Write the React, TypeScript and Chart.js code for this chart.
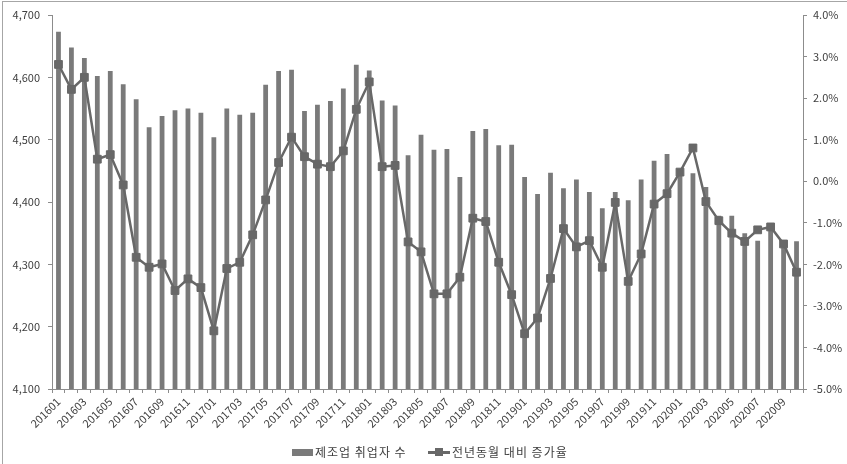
import React, { useEffect, useRef } from "react";
import { Chart, registerables } from "chart.js";

Chart.register(...registerables);

// Month codes (YYYYMM)
const months: string[] = [
  "201601", "201602", "201603", "201604", "201605", "201606",
  "201607", "201608", "201609", "201610", "201611", "201612",
  "201701", "201702", "201703", "201704", "201705", "201706",
  "201707", "201708", "201709", "201710", "201711", "201712",
  "201801", "201802", "201803", "201804", "201805", "201806",
  "201807", "201808", "201809", "201810", "201811", "201812",
  "201901", "201902", "201903", "201904", "201905", "201906",
  "201907", "201908", "201909", "201910", "201911", "201912",
  "202001", "202002", "202003", "202004", "202005", "202006",
  "202007", "202008", "202009", "202010",
];

// Manufacturing employment (thousand persons)
const employed: number[] = [
  4673, 4648, 4631, 4602, 4610, 4589, 4565, 4520, 4538, 4547, 4550, 4543,
  4504, 4550, 4540, 4543, 4588, 4610, 4612, 4546, 4556, 4562, 4582, 4620,
  4611, 4563, 4555, 4475, 4508, 4484, 4485, 4440, 4514, 4517, 4491, 4492,
  4440, 4413, 4447, 4422, 4436, 4416, 4390, 4416, 4403, 4436, 4466, 4477,
  4450, 4446, 4424, 4378, 4378, 4350, 4338, 4366, 4338, 4337,
];

// Year-on-year change (%)
const yoyRate: number[] = [
  2.81, 2.21, 2.5, 0.53, 0.64, -0.09, -1.83, -2.07, -1.99, -2.63, -2.35, -2.56,
  -3.6, -2.1, -1.95, -1.29, -0.45, 0.45, 1.06, 0.59, 0.41, 0.35, 0.73, 1.73,
  2.39, 0.35, 0.38, -1.46, -1.7, -2.71, -2.71, -2.31, -0.89, -0.97, -1.95, -2.73,
  -3.67, -3.29, -2.34, -1.14, -1.58, -1.43, -2.07, -0.51, -2.41, -1.75, -0.55, -0.3,
  0.22, 0.8, -0.49, -0.95, -1.25, -1.45, -1.17, -1.1, -1.51, -2.19,
];

const barLabel = "제조업 취업자 수";
const lineLabel = "전년동월 대비 증가율";

const BAR_COLOR = "#7a7a7a";
const LINE_COLOR = "#686868";
const AXIS_COLOR = "#8c8c8c";
const TEXT_COLOR = "#404040";
const FONT = '"Noto Sans CJK KR", "Noto Sans", sans-serif';

export default function App() {
  const canvasRef = useRef<HTMLCanvasElement | null>(null);

  useEffect(() => {
    const canvas = canvasRef.current;
    if (!canvas) return;

    Chart.defaults.font.family = FONT;
    Chart.defaults.font.size = 11;
    Chart.defaults.color = TEXT_COLOR;

    const chart = new Chart(canvas, {
      type: "bar",
      data: {
        labels: months,
        datasets: [
          {
            type: "line",
            label: lineLabel,
            data: yoyRate,
            yAxisID: "y1",
            borderColor: LINE_COLOR,
            backgroundColor: LINE_COLOR,
            borderWidth: 2.5,
            pointStyle: "rect",
            pointRadius: 5.5,
            pointBackgroundColor: LINE_COLOR,
            pointBorderColor: LINE_COLOR,
            pointBorderWidth: 1,
            tension: 0,
            order: 0,
          },
          {
            type: "bar",
            label: barLabel,
            data: employed,
            yAxisID: "y",
            backgroundColor: BAR_COLOR,
            borderWidth: 0,
            barPercentage: 0.37,
            categoryPercentage: 1,
            order: 1,
          },
        ],
      },
      options: {
        responsive: false,
        animation: false,
        layout: { padding: { top: 15, left: 0, right: 0, bottom: 0 } },
        plugins: {
          legend: { display: false },
          tooltip: { enabled: false },
        },
        scales: {
          x: {
            grid: {
              drawOnChartArea: false,
              drawTicks: true,
              tickLength: 4,
              color: AXIS_COLOR,
            },
            border: { display: true, color: AXIS_COLOR },
            ticks: {
              autoSkip: false,
              minRotation: 45,
              maxRotation: 45,
              padding: 2,
              font: { size: 11 },
              callback: (_v: any, index: number) =>
                index % 2 === 0 ? months[index] : "",
            },
            afterFit: (scale: any) => {
              scale.height = 75;
            },
          },
          y: {
            position: "left",
            min: 4100,
            max: 4700,
            grid: {
              drawOnChartArea: false,
              drawTicks: true,
              tickLength: 4,
              color: AXIS_COLOR,
            },
            border: { display: true, color: AXIS_COLOR },
            ticks: {
              stepSize: 100,
              padding: 8,
              callback: (v: any) => Number(v).toLocaleString("en-US"),
            },
            afterFit: (scale: any) => {
              scale.width = 52;
            },
          },
          y1: {
            position: "right",
            min: -5,
            max: 4,
            grid: {
              drawOnChartArea: false,
              drawTicks: true,
              tickLength: 4,
              color: AXIS_COLOR,
            },
            border: { display: true, color: AXIS_COLOR },
            ticks: {
              stepSize: 1,
              padding: 6,
              callback: (v: any) => Number(v).toFixed(1) + "%",
            },
            afterFit: (scale: any) => {
              scale.width = 44;
            },
          },
        },
      },
    });

    return () => chart.destroy();
  }, []);

  const legendText: React.CSSProperties = {
    position: "absolute",
    top: 444,
    fontFamily: FONT,
    fontSize: 12,
    lineHeight: "16px",
    letterSpacing: "1px",
    color: TEXT_COLOR,
    whiteSpace: "nowrap",
  };

  return (
    <div
      style={{
        position: "absolute",
        left: 0,
        top: 0,
        width: 847,
        height: 464,
        background: "#ffffff",
        overflow: "hidden",
      }}
    >
      <canvas
        ref={canvasRef}
        width={847}
        height={464}
        style={{ position: "absolute", left: 0, top: 0, width: 847, height: 464 }}
      />
      {/* chart frame */}
      <div
        style={{
          position: "absolute",
          left: 2,
          top: 1,
          width: 845,
          height: 463,
          borderTop: "1px solid #a6a6a6",
          borderLeft: "1px solid #a6a6a6",
          boxSizing: "border-box",
          pointerEvents: "none",
        }}
      />
      {/* legend */}
      <div
        style={{
          position: "absolute",
          left: 292,
          top: 449,
          width: 21,
          height: 7,
          background: BAR_COLOR,
        }}
      />
      <div style={{ ...legendText, left: 315 }}>{barLabel}</div>
      <div
        style={{
          position: "absolute",
          left: 428,
          top: 451,
          width: 22,
          height: 2.5,
          background: LINE_COLOR,
        }}
      />
      <div
        style={{
          position: "absolute",
          left: 435,
          top: 448,
          width: 8,
          height: 8,
          background: LINE_COLOR,
        }}
      />
      <div style={{ ...legendText, left: 452 }}>{lineLabel}</div>
    </div>
  );
}
